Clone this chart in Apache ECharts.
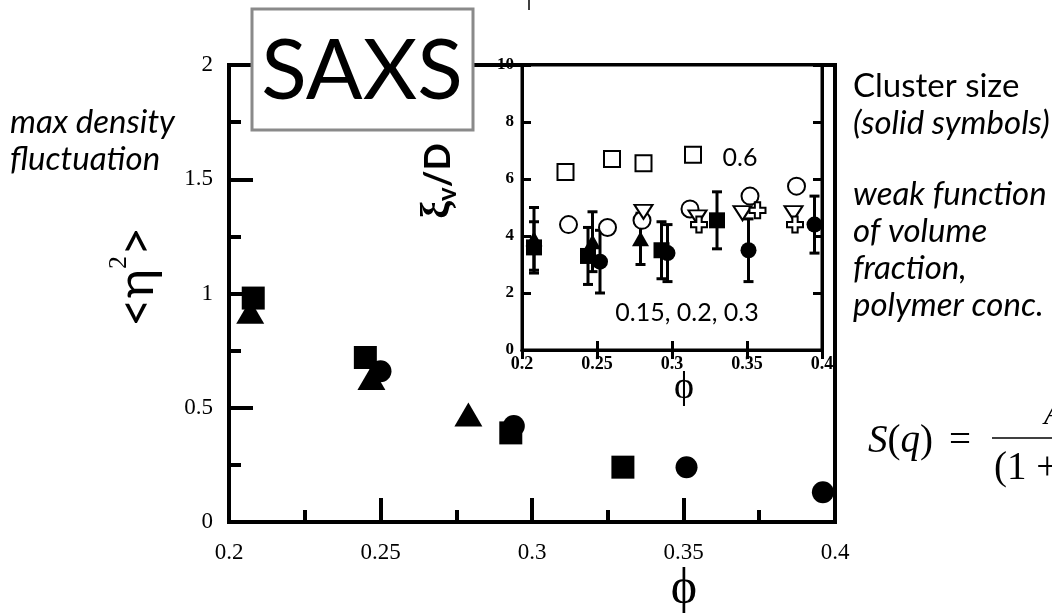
<!DOCTYPE html>
<html>
<head>
<meta charset="utf-8">
<script src="https://cdn.jsdelivr.net/npm/echarts@6/dist/echarts.min.js"></script>
<style>
  html, body { margin: 0; padding: 0; background: #fff; }
  #chart { width: 1052px; height: 613px; }
</style>
</head>
<body>
<div id="chart"></div>
<script>
// Main panel: mean-square density fluctuation vs volume fraction (solid symbols)
const mainXTicks = [0.2, 0.25, 0.3, 0.35, 0.4];
const mainYTicks = [0, 0.5, 1, 1.5, 2];
const mainSquares   = [[0.208, 0.98], [0.245, 0.72], [0.293, 0.39], [0.330, 0.24]];
const mainTriangles = [[0.207, 0.92], [0.247, 0.63], [0.279, 0.47]];
const mainCircles   = [[0.250, 0.66], [0.294, 0.42], [0.351, 0.24], [0.396, 0.13]];

// Inset: cluster size xi_v / D vs volume fraction
const insetXTicks = [0.2, 0.25, 0.3, 0.35, 0.4];
const insetYTicks = [0, 2, 4, 6, 8, 10];
// solid symbols: [phi, value, error]
const insetSquares   = [[0.208, 3.6, 0.9], [0.244, 3.3, 1.0], [0.293, 3.5, 1.0], [0.330, 4.55, 1.0]];
const insetTriangles = [[0.208, 3.9, 1.1], [0.247, 3.8, 1.05], [0.279, 3.9, 0.9]];
const insetCircles   = [[0.252, 3.1, 1.1], [0.297, 3.4, 1.0], [0.351, 3.5, 1.1], [0.395, 4.4, 1.0]];
// open symbols
const openSquares   = [[0.229, 6.25], [0.260, 6.7], [0.281, 6.55], [0.314, 6.85]];
const openCircles   = [[0.231, 4.4], [0.257, 4.3], [0.280, 4.55], [0.312, 4.95], [0.352, 5.4], [0.383, 5.75]];
const openDownTris  = [[0.281, 4.85], [0.317, 4.65], [0.347, 4.8], [0.381, 4.8]];
const openPlus      = [[0.318, 4.4], [0.357, 4.9], [0.382, 4.4]];

const serif = '"Liberation Serif", "DejaVu Serif", serif';
const sans = 'Lato, "Open Sans", sans-serif';
const plusPath = 'path://M1,0H2V1H3V2H2V3H1V2H0V1H1Z';

const chart = echarts.init(document.getElementById('chart'), null, { renderer: 'canvas' });

function span(t) { return { min: t[0], max: t[t.length - 1], interval: t[1] - t[0] }; }

function errorBars(params, api) {
  const x = api.value(0), y = api.value(1), e = api.value(2);
  const top = api.coord([x, y + e]);
  const bot = api.coord([x, y - e]);
  const cap = 5;
  const st = { stroke: '#000', lineWidth: 3 };
  return {
    type: 'group',
    children: [
      { type: 'line', shape: { x1: top[0], y1: top[1], x2: bot[0], y2: bot[1] }, style: st },
      { type: 'line', shape: { x1: top[0] - cap, y1: top[1], x2: top[0] + cap, y2: top[1] }, style: st },
      { type: 'line', shape: { x1: bot[0] - cap, y1: bot[1], x2: bot[0] + cap, y2: bot[1] }, style: st }
    ]
  };
}

const mainAxisLine = { show: true, lineStyle: { color: '#000', width: 4 } };
const insetAxisLine = { show: true, lineStyle: { color: '#000', width: 3 } };
const solid = { color: '#000', opacity: 1 };
const hollow = { color: '#fff', borderColor: '#000', borderWidth: 2, opacity: 1 };

function insetSeries(name, data, symbol, size, rotate) {
  return [
    {
      type: 'custom', name: name + ' err', xAxisIndex: 1, yAxisIndex: 1,
      renderItem: errorBars, data: data, encode: { x: 0, y: 1 }, z: 3, silent: true
    },
    {
      type: 'scatter', name: name, xAxisIndex: 1, yAxisIndex: 1,
      data: data.map(d => [d[0], d[1]]), symbol: symbol, symbolSize: size,
      symbolRotate: rotate || 0, itemStyle: solid, z: 4, silent: true
    }
  ];
}

function openSeries(name, data, symbol, size, rotate) {
  return {
    type: 'scatter', name: name, xAxisIndex: 1, yAxisIndex: 1,
    data: data, symbol: symbol, symbolSize: size, symbolRotate: rotate || 0,
    itemStyle: hollow, z: 5, silent: true
  };
}

function label(x, y, text, size, extra) {
  return {
    type: 'text', x: x, y: y, z: 100,
    style: Object.assign({ text: text, fontFamily: sans, fontSize: size, fill: '#000', align: 'left', verticalAlign: 'middle' }, extra || {})
  };
}

const option = {
  animation: false,
  backgroundColor: '#fff',
  grid: [
    { left: 229, top: 65, width: 606, height: 457, show: true, borderColor: '#000', borderWidth: 4, backgroundColor: 'transparent' },
    { left: 522, top: 65, width: 300, height: 285, show: true, borderColor: '#000', borderWidth: 3, backgroundColor: '#fff' }
  ],
  xAxis: [
    Object.assign({
      type: 'value', gridIndex: 0, position: 'bottom',
      axisLine: mainAxisLine,
      axisTick: { show: true, inside: true, length: 24, lineStyle: { color: '#000', width: 4 } },
      minorTick: { show: true, splitNumber: 2, length: 12, lineStyle: { color: '#000', width: 4 } },
      splitLine: { show: false },
      axisLabel: { show: true, margin: 19, color: '#000', fontFamily: serif, fontSize: 23,
        formatter: v => String(+v.toFixed(3)) }
    }, span(mainXTicks)),
    Object.assign({
      type: 'value', gridIndex: 1, position: 'bottom',
      axisLine: insetAxisLine,
      axisTick: { show: true, inside: true, length: 9, lineStyle: { color: '#000', width: 3 } },
      splitLine: { show: false },
      axisLabel: { show: true, margin: 5, color: '#000', fontFamily: serif, fontWeight: 'bold', fontSize: 18,
        formatter: v => String(+v.toFixed(3)) }
    }, span(insetXTicks)),
    Object.assign({
      type: 'value', gridIndex: 1, position: 'top',
      axisLine: insetAxisLine,
      axisTick: { show: true, inside: true, length: 9, lineStyle: { color: '#000', width: 3 } },
      splitLine: { show: false }, axisLabel: { show: false }
    }, span(insetXTicks))
  ],
  yAxis: [
    Object.assign({
      type: 'value', gridIndex: 0, position: 'left',
      axisLine: mainAxisLine,
      axisTick: { show: true, inside: true, length: 24, lineStyle: { color: '#000', width: 4 } },
      minorTick: { show: true, splitNumber: 2, length: 12, lineStyle: { color: '#000', width: 4 } },
      splitLine: { show: false },
      axisLabel: { show: true, margin: 16, color: '#000', fontFamily: serif, fontSize: 23 }
    }, span(mainYTicks)),
    Object.assign({
      type: 'value', gridIndex: 1, position: 'left',
      axisLine: insetAxisLine,
      axisTick: { show: true, inside: true, length: 9, lineStyle: { color: '#000', width: 3 } },
      splitLine: { show: false },
      axisLabel: { show: true, margin: 8, color: '#000', fontFamily: serif, fontWeight: 'bold', fontSize: 17 }
    }, span(insetYTicks)),
    Object.assign({
      type: 'value', gridIndex: 1, position: 'right',
      axisLine: insetAxisLine,
      axisTick: { show: true, inside: true, length: 9, lineStyle: { color: '#000', width: 3 } },
      splitLine: { show: false }, axisLabel: { show: false }
    }, span(insetYTicks))
  ],
  series: [
    { type: 'scatter', name: 'main triangles', xAxisIndex: 0, yAxisIndex: 0, data: mainTriangles,
      symbol: 'triangle', symbolSize: [28, 24], itemStyle: solid, silent: true },
    { type: 'scatter', name: 'main circles', xAxisIndex: 0, yAxisIndex: 0, data: mainCircles,
      symbol: 'circle', symbolSize: 22, itemStyle: solid, silent: true },
    { type: 'scatter', name: 'main squares', xAxisIndex: 0, yAxisIndex: 0, data: mainSquares,
      symbol: 'rect', symbolSize: 23, itemStyle: solid, silent: true },
    ...insetSeries('inset triangles', insetTriangles, 'triangle', [17, 15]),
    ...insetSeries('inset squares', insetSquares, 'rect', 16),
    ...insetSeries('inset circles', insetCircles, 'circle', 16),
    openSeries('open squares', openSquares, 'rect', 16),
    openSeries('open circles', openCircles, 'circle', 17),
    openSeries('open down triangles', openDownTris, 'triangle', [18, 14], 180),
    openSeries('open plus', openPlus, plusPath, 16)
  ],
  graphic: [
    // SAXS label box
    { type: 'rect', shape: { x: 252, y: 9, width: 221, height: 121 },
      style: { fill: '#fff', stroke: '#8a8a8a', lineWidth: 3 }, z: 100 },
    label(362, 72, 'SAXS', 84, { align: 'center' }),
    { type: 'line', shape: { x1: 529, y1: 0, x2: 529, y2: 10 }, style: { stroke: '#000', lineWidth: 1.5 }, z: 100 },

    // axis titles
    label(684, 590, 'ϕ', 50, { fontFamily: serif, align: 'center' }),
    label(684, 388, 'ϕ', 38, { fontFamily: serif, align: 'center' }),
    { type: 'text', x: 134, y: 277, rotation: Math.PI / 2, z: 100,
      style: {
        text: '{a|<η}{s|2}{a|>}', align: 'center', verticalAlign: 'middle',
        rich: {
          a: { fontFamily: sans, fontSize: 50, fill: '#000', lineHeight: 56, verticalAlign: 'bottom' },
          s: { fontFamily: serif, fontSize: 26, fill: '#000', lineHeight: 56, verticalAlign: 'top' }
        }
      } },
    { type: 'text', x: 438, y: 181, rotation: Math.PI / 2, z: 100,
      style: {
        text: '{x|ξ}{v|v}{d|/D}', align: 'center', verticalAlign: 'middle',
        rich: {
          x: { fontFamily: serif, fontWeight: 'bold', fontSize: 40, fill: '#000', lineHeight: 46, verticalAlign: 'middle' },
          v: { fontFamily: sans, fontWeight: 'bold', fontSize: 26, fill: '#000', lineHeight: 46, verticalAlign: 'bottom' },
          d: { fontFamily: sans, fontWeight: 'bold', fontSize: 36, fill: '#000', lineHeight: 46, verticalAlign: 'middle' }
        }
      } },

    // inset annotations
    label(740, 158, '0.6', 25, { align: 'center' }),
    label(687, 313, '0.15, 0.2, 0.3', 25, { align: 'center' }),

    // left notes
    label(10, 122, 'max density', 33, { fontStyle: 'italic' }),
    label(10, 159, 'fluctuation', 33, { fontStyle: 'italic' }),

    // right notes
    label(853, 86, 'Cluster size', 33),
    label(853, 123, '(solid symbols)', 33, { fontStyle: 'italic' }),
    label(853, 194, 'weak function', 33, { fontStyle: 'italic' }),
    label(853, 231, 'of volume', 33, { fontStyle: 'italic' }),
    label(853, 268, 'fraction,', 33, { fontStyle: 'italic' }),
    label(853, 305, 'polymer conc.', 33, { fontStyle: 'italic' }),

    // structure factor formula (runs off the right edge)
    { type: 'text', x: 868, y: 442, z: 100,
      style: {
        text: '{i|S}{r|(}{i|q}{r|)}{e|=}', align: 'left', verticalAlign: 'middle',
        rich: {
          i: { fontFamily: serif, fontStyle: 'italic', fontSize: 39, fill: '#000' },
          r: { fontFamily: serif, fontSize: 39, fill: '#000' },
          e: { fontFamily: serif, fontSize: 39, fill: '#000', padding: [0, 0, 0, 16] }
        }
      } },
    { type: 'line', shape: { x1: 992, y1: 438, x2: 1052, y2: 438 }, style: { stroke: '#000', lineWidth: 1.5 }, z: 100 },
    label(994, 469, '(1 +', 39, { fontFamily: serif }),
    label(1044, 416, 'A', 32, { fontFamily: serif, fontStyle: 'italic' })
  ]
};

chart.setOption(option);
</script>
</body>
</html>
